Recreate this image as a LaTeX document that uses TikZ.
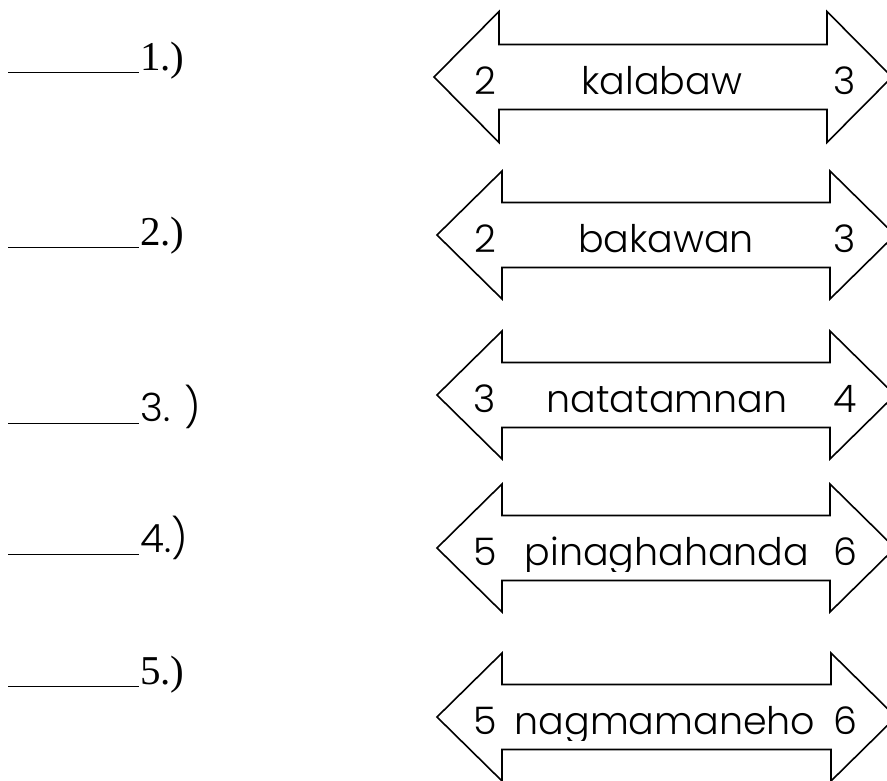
\documentclass[tikz,border=0pt]{standalone}
\usepackage{fontspec}
\setmainfont{Liberation Serif}
\newfontfamily\geo{Poppins Light}
\begin{document}
\begin{tikzpicture}[x=1pt,y=-1pt]
    \useasboundingbox (0,0) rectangle (887,780);
    \tikzset{
        arrowbox/.style={draw, line width=1.6pt, line join=miter, fill=white},
        arrowtext/.style={font=\geo\fontsize{38}{44}\selectfont, inner sep=0pt, anchor=base},
        answer/.style={line width=1pt},
        itemtext/.style={font=\fontsize{41}{48}\selectfont, inner sep=0pt, anchor=base west},
        itemsans/.style={font=\geo\fontsize{39}{46}\selectfont, inner sep=0pt, anchor=base west}
    }

    % Answer lines
    \foreach \i/\ly/\st/\lab in {1/72/itemtext/1.), 2/247/itemtext/2.), 3/423/itemsans/{3. )}, 4/554/itemsans/4.), 5/686/itemtext/5.)} {
        \draw[answer] (8,\ly) -- (139,\ly);
        \node[\st] (item\i) at (140,\ly-1.5) {\lab};
    }

    % Double arrows
    \foreach \i/\cy/\lt/\rb/\h/\a/\w/\b/\wx in {1/77/434/827/65.5/2/kalabaw/3/662, 2/235/437/830/64/2/bakawan/3/666, 3/395/437/830/64/3/natatamnan/4/667, 4/548/437/830/64/5/pinaghahanda/6/667, 5/717/437/831/64/5/nagmamaneho/6/665} {
        \draw[arrowbox] (\lt,\cy) -- (\lt+65,\cy-\h) -- (\lt+65,\cy-32.5) -- (\rb,\cy-32.5) -- (\rb,\cy-\h) -- (\rb+65,\cy)
            -- (\rb,\cy+\h) -- (\rb,\cy+32.5) -- (\lt+65,\cy+32.5) -- (\lt+65,\cy+\h) -- cycle;
        \node[arrowtext] (left\i) at (485,\cy+17) {\a};
        \node[arrowtext] (right\i) at (845,\cy+17) {\b};
        \begin{scope}
            \clip (\lt+65,\cy-32) rectangle (\rb,\cy+23);
            \node[arrowtext] (word\i) at (\wx,\cy+17) {\w};
        \end{scope}
    }
\end{tikzpicture}
\end{document}
